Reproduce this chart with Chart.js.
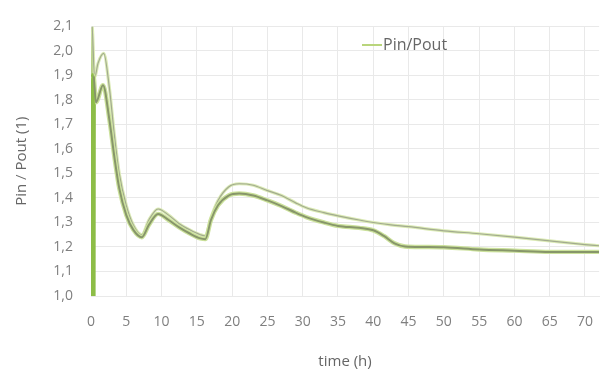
<!DOCTYPE html>
<html>
<head>
<meta charset="utf-8">
<script src="https://cdn.jsdelivr.net/npm/chart.js@4/dist/chart.umd.min.js"></script>
<style>
  html, body { margin: 0; padding: 0; background: #ffffff; }
  #wrap { width: 611px; height: 377px; }
</style>
</head>
<body>
<div id="wrap"><canvas id="c" width="611" height="377"></canvas></div>
<script>
// Pressure ratio Pin/Pout over time
const seriesLabel = 'Pin/Pout';
const xTitle = 'time (h)';
const yTitle = 'Pin / Pout (1)';

const timeUpper = [0.1, 0.15, 0.5, 1.0, 1.8, 2.6, 3.3, 4.0, 5.0, 6.0, 7.2, 8.2, 9.5, 11, 12.5, 14, 15.5, 16.2, 17, 18, 19.5, 21, 23, 25, 27, 29, 30.5, 33, 35, 38, 40, 42.5, 45, 50, 55, 60, 65, 70, 72];
const valuesUpper = [1.0, 2.1, 1.89, 1.95, 1.99, 1.85, 1.66, 1.50, 1.37, 1.29, 1.25, 1.31, 1.355, 1.33, 1.295, 1.27, 1.25, 1.245, 1.32, 1.39, 1.445, 1.458, 1.452, 1.43, 1.41, 1.38, 1.36, 1.34, 1.327, 1.31, 1.30, 1.29, 1.283, 1.266, 1.254, 1.24, 1.225, 1.21, 1.205];

const timeLower = [0.3, 0.35, 0.7, 1.7, 2.6, 3.3, 4.0, 5.0, 6.0, 7.2, 8.2, 9.5, 11, 12.5, 14, 15.5, 16.2, 17, 18, 19.5, 21, 23, 25, 27, 29, 30.5, 33, 35, 38, 40, 41.5, 43, 44.5, 47, 50, 55, 60, 65, 70, 72];
const valuesLower = [1.0, 1.9, 1.79, 1.86, 1.72, 1.57, 1.44, 1.33, 1.27, 1.24, 1.29, 1.335, 1.31, 1.28, 1.255, 1.235, 1.232, 1.31, 1.37, 1.41, 1.418, 1.41, 1.39, 1.367, 1.34, 1.322, 1.30, 1.286, 1.278, 1.268, 1.245, 1.215, 1.202, 1.2, 1.199, 1.19, 1.185, 1.18, 1.18, 1.18];

const xMin = 0, xMax = 72, xStep = 5, xLastTick = 70;
const yMin = 1.0, yMax = 2.1, yStep = 0.1;

const toPoints = (xs, ys) => xs.map((x, i) => ({ x: x, y: ys[i] }));

const fontFamily = "'Open Sans', 'Liberation Sans', sans-serif";
const tickColor = '#7f7f7f';
const gridColor = '#e9e9e9';

// Each curve is stroked twice: a soft green halo under a grey-olive core.
// The first segment (the jump at start-up) gets its own width and colour.
function curve(xs, ys, color, width, firstColor, firstWidth, order) {
  return {
    label: seriesLabel,
    data: toPoints(xs, ys),
    showLine: true,
    order: order,
    borderColor: color,
    borderWidth: width,
    pointRadius: 0,
    cubicInterpolationMode: 'monotone',
    segment: {
      borderColor: c => c.p0DataIndex === 0 ? firstColor : color,
      borderWidth: c => c.p0DataIndex === 0 ? firstWidth : width
    }
  };
}

// Legend drawn inside the plot area, next to the curves
const innerLegend = {
  id: 'innerLegend',
  afterDraw(chart) {
    const ctx = chart.ctx;
    ctx.save();
    ctx.strokeStyle = '#b9d57c';
    ctx.lineWidth = 2;
    ctx.beginPath();
    ctx.moveTo(362, 45);
    ctx.lineTo(382, 45);
    ctx.stroke();
    ctx.fillStyle = '#666666';
    ctx.font = '16px ' + fontFamily;
    ctx.textBaseline = 'middle';
    ctx.textAlign = 'left';
    ctx.fillText(seriesLabel, 383, 45);
    ctx.restore();
  }
};

new Chart(document.getElementById('c'), {
  type: 'scatter',
  data: {
    datasets: [
      curve(timeUpper, valuesUpper, '#dbeab5', 3.2, '#c0d98e', 2.2, 4),
      curve(timeUpper, valuesUpper, '#a2ab8f', 1.2, '#a8c476', 1.2, 3),
      curve(timeLower, valuesLower, '#cbe19b', 4.4, '#8dbd47', 5.0, 2),
      curve(timeLower, valuesLower, '#87966a', 2.0, '#8dbd47', 3.0, 1)
    ]
  },
  options: {
    responsive: false,
    animation: false,
    layout: { padding: { left: 0, right: 0, top: 23, bottom: 0 } },
    plugins: {
      legend: { display: false },
      tooltip: { enabled: false }
    },
    scales: {
      x: {
        type: 'linear',
        min: xMin,
        max: xMax,
        afterBuildTicks(scale) {
          const ticks = [];
          for (let v = xMin; v <= xLastTick; v += xStep) ticks.push({ value: v });
          scale.ticks = ticks;
        },
        afterFit(scale) { scale.height = 81; },
        ticks: {
          stepSize: xStep,
          color: tickColor,
          font: { family: fontFamily, size: 14 },
          padding: 18,
          maxRotation: 0,
          autoSkip: false
        },
        grid: { color: gridColor, drawTicks: false },
        border: { color: gridColor },
        title: {
          display: true,
          text: xTitle,
          color: '#666666',
          font: { family: fontFamily, size: 15 },
          padding: { top: 0, bottom: 6 }
        }
      },
      y: {
        min: yMin,
        max: yMax,
        afterFit(scale) { scale.width = 91; },
        ticks: {
          stepSize: yStep,
          color: tickColor,
          font: { family: fontFamily, size: 14 },
          padding: 18,
          callback: v => v.toFixed(1).replace('.', ',')
        },
        grid: { color: gridColor, drawTicks: false },
        border: { color: gridColor },
        title: {
          display: true,
          text: yTitle,
          color: '#666666',
          font: { family: fontFamily, size: 15 },
          padding: { top: 13, bottom: 0 }
        }
      }
    }
  },
  plugins: [innerLegend]
});
</script>
</body>
</html>
